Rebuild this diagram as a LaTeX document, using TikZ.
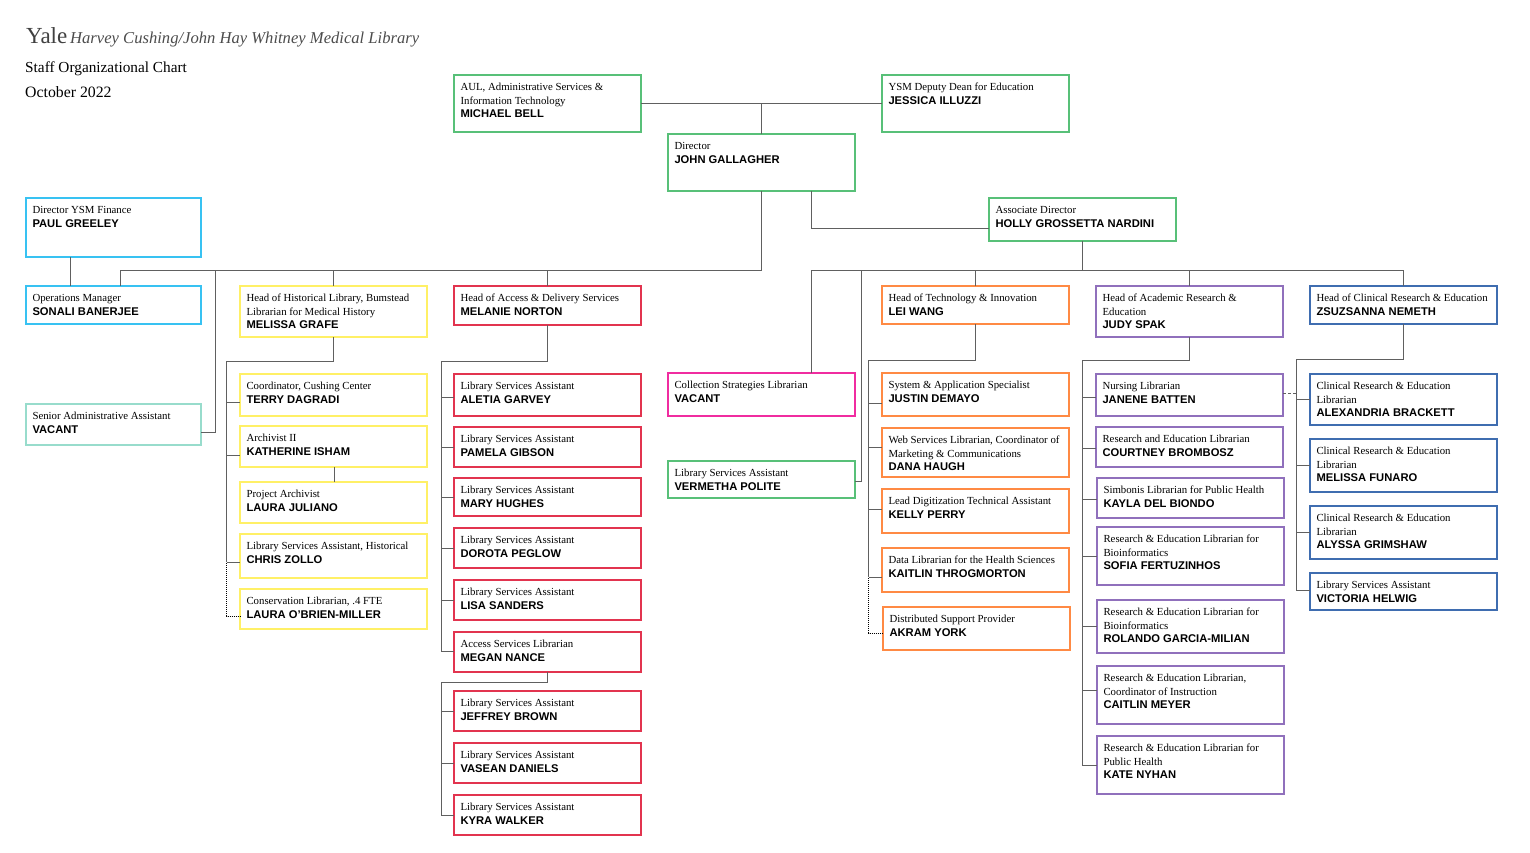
\documentclass[tikz,border=0pt]{standalone}
\usepackage{fontspec}
\setmainfont{Liberation Serif}
\setsansfont{Liberation Sans}
\definecolor{ygreen}{HTML}{58C078}
\definecolor{ycyan}{HTML}{38C2F2}
\definecolor{yteal}{HTML}{98DCCC}
\definecolor{yyellow}{HTML}{FFF066}
\definecolor{yred}{HTML}{E2344F}
\definecolor{ypink}{HTML}{F02CA0}
\definecolor{yorange}{HTML}{FF8A44}
\definecolor{ypurple}{HTML}{9070BC}
\definecolor{yblue}{HTML}{3F6DB0}
\definecolor{ylink}{HTML}{606060}
\tikzset{
	staffbox/.style={draw=#1, line width=1.1pt, anchor=north west, inner xsep=6.5pt, inner ysep=0pt, outer sep=0pt, font=\fontsize{10.8}{13.8}\selectfont},
	link/.style={draw=ylink, line width=0.9pt},
	dotlink/.style={draw=black, line width=1pt, densely dotted},
	headline/.style={anchor=base west, inner sep=0pt}
}
% id, colour, left, top, height, role, name
\newcommand{\staff}[8][187]{\node[staffbox=#3] (#2) at (#4,#5) {\parbox[t][#6pt][t]{\dimexpr#1pt-13pt\relax}{\raggedright\rule{0pt}{15.3pt}#7\\{\sffamily\bfseries\fontsize{11.2}{13.8}\selectfont #8}}};}
\begin{document}
\begin{tikzpicture}[x=1pt,y=-1pt]
	\useasboundingbox (0,0) rectangle (1530,852);
	% heading
	\node[headline, text=black!75, font=\fontsize{23}{25}\selectfont] (yale) at (26,43) {Yale};
	\node[headline, text=black!70, font=\fontsize{16.6}{20}\selectfont\itshape] (library) at (70,43) {Harvey Cushing/John Hay Whitney Medical Library};
	\node[headline, font=\fontsize{15.3}{18}\selectfont] (chart) at (25,72) {Staff Organizational Chart};
	\node[headline, font=\fontsize{15.8}{18}\selectfont] (date) at (25,97) {October 2022};
	% top of the chart
	\staff{aul}{ygreen}{454}{75}{57}{AUL, Administrative Services \&\\Information Technology}{MICHAEL BELL}
	\staff{dean}{ygreen}{882}{75}{57}{YSM Deputy Dean for Education}{JESSICA ILLUZZI}
	\staff{director}{ygreen}{668}{134}{57}{Director}{JOHN GALLAGHER}
	\staff{assoc}{ygreen}{989}{198}{43}{Associate Director}{HOLLY GROSSETTA NARDINI}
	\staff[175]{finance}{ycyan}{26}{198}{59}{Director YSM Finance}{PAUL GREELEY}
	\staff[175]{opsmgr}{ycyan}{26}{286}{38}{Operations Manager}{SONALI BANERJEE}
	\staff[175]{admin}{yteal}{26}{404}{41}{Senior Administrative Assistant}{VACANT}
	% historical library
	\staff{hist}{yyellow}{240}{286}{51}{Head of Historical Library, Bumstead\\Librarian for Medical History}{MELISSA GRAFE}
	\staff{terry}{yyellow}{240}{374}{42}{Coordinator, Cushing Center}{TERRY DAGRADI}
	\staff{katherine}{yyellow}{240}{426}{41}{Archivist II}{KATHERINE ISHAM}
	\staff{juliano}{yyellow}{240}{482}{41}{Project Archivist}{LAURA JULIANO}
	\staff{chris}{yyellow}{240}{534}{44}{Library Services Assistant, Historical}{CHRIS ZOLLO}
	\staff{obrien}{yyellow}{240}{589}{40}{Conservation Librarian, .4 FTE}{LAURA O'BRIEN-MILLER}
	% access and delivery
	\staff{access}{yred}{454}{286}{39}{Head of Access \& Delivery Services}{MELANIE NORTON}
	\staff{aletia}{yred}{454}{374}{42}{Library Services Assistant}{ALETIA GARVEY}
	\staff{pamela}{yred}{454}{427}{40}{Library Services Assistant}{PAMELA GIBSON}
	\staff{mary}{yred}{454}{478}{38}{Library Services Assistant}{MARY HUGHES}
	\staff{dorota}{yred}{454}{528}{40}{Library Services Assistant}{DOROTA PEGLOW}
	\staff{lisa}{yred}{454}{580}{40}{Library Services Assistant}{LISA SANDERS}
	\staff{megan}{yred}{454}{632}{40}{Access Services Librarian}{MEGAN NANCE}
	\staff{jeffrey}{yred}{454}{691}{40}{Library Services Assistant}{JEFFREY BROWN}
	\staff{vasean}{yred}{454}{743}{40}{Library Services Assistant}{VASEAN DANIELS}
	\staff{kyra}{yred}{454}{795}{40}{Library Services Assistant}{KYRA WALKER}
	% middle column
	\staff{collection}{ypink}{668}{373}{43}{Collection Strategies Librarian}{VACANT}
	\staff{vermetha}{ygreen}{668}{461}{37}{Library Services Assistant}{VERMETHA POLITE}
	% technology
	\staff{lei}{yorange}{882}{286}{38}{Head of Technology \& Innovation}{LEI WANG}
	\staff{justin}{yorange}{882}{373}{43}{System \& Application Specialist}{JUSTIN DEMAYO}
	\staff{dana}{yorange}{882}{428}{49}{Web Services Librarian, Coordinator of\\Marketing \& Communications}{DANA HAUGH}
	\staff{kelly}{yorange}{882}{489}{44}{Lead Digitization Technical Assistant}{KELLY PERRY}
	\staff{kaitlin}{yorange}{882}{548}{44}{Data Librarian for the Health Sciences}{KAITLIN THROGMORTON}
	\staff{akram}{yorange}{883}{607}{43}{Distributed Support Provider}{AKRAM YORK}
	% academic research
	\staff{judy}{ypurple}{1096}{286}{51}{Head of Academic Research \&\\Education}{JUDY SPAK}
	\staff{janene}{ypurple}{1096}{374}{42}{Nursing Librarian}{JANENE BATTEN}
	\staff{courtney}{ypurple}{1096}{427}{40}{Research and Education Librarian}{COURTNEY BROMBOSZ}
	\staff{kayla}{ypurple}{1097}{478}{40}{Simbonis Librarian for Public Health}{KAYLA DEL BIONDO}
	\staff{sofia}{ypurple}{1097}{527}{58}{Research \& Education Librarian for\\Bioinformatics}{SOFIA FERTUZINHOS}
	\staff{rolando}{ypurple}{1097}{600}{53}{Research \& Education Librarian for\\Bioinformatics}{ROLANDO GARCIA-MILIAN}
	\staff{caitlin}{ypurple}{1097}{666}{58}{Research \& Education Librarian,\\Coordinator of Instruction}{CAITLIN MEYER}
	\staff{kate}{ypurple}{1097}{736}{58}{Research \& Education Librarian for\\Public Health}{KATE NYHAN}
	% clinical research
	\staff{zsuzsanna}{yblue}{1310}{286}{38}{Head of Clinical Research \& Education}{ZSUZSANNA NEMETH}
	\staff{alexandria}{yblue}{1310}{374}{51}{Clinical Research \& Education\\Librarian}{ALEXANDRIA BRACKETT}
	\staff{funaro}{yblue}{1310}{439}{53}{Clinical Research \& Education\\Librarian}{MELISSA FUNARO}
	\staff{alyssa}{yblue}{1310}{506}{53}{Clinical Research \& Education\\Librarian}{ALYSSA GRIMSHAW}
	\staff{victoria}{yblue}{1310}{573}{37}{Library Services Assistant}{VICTORIA HELWIG}
	% elbows of the trunks
	\coordinate (leftbus) at (120,270);
	\coordinate (rightbus) at (811,270);
	\coordinate (histtrunk) at (226.5,361);
	\coordinate (accesstrunk) at (441,361);
	\coordinate (megantrunk) at (441,682);
	\coordinate (leitrunk) at (868.5,360);
	\coordinate (judytrunk) at (1082,360);
	\coordinate (zsutrunk) at (1296,359);
	% top links
	\draw[link] (aul.east) -- (dean.west);
	\draw[link] (director.north |- aul.east) -- (director.north);
	\draw[link] (director.south -| 811,0) |- (assoc.west |- 0,228);
	\draw[link] (finance.south -| 70,0) -- (opsmgr.north -| 70,0);
	% left bus
	\draw[link] (director.south) |- (leftbus) -- (opsmgr.north -| leftbus);
	\draw[link] (215,270) |- (admin.east |- 0,432);
	\draw[link] (hist.north |- leftbus) -- (hist.north);
	\draw[link] (access.north |- leftbus) -- (access.north);
	% right bus
	\draw[link] (assoc.south) -- (assoc.south |- rightbus);
	\draw[link] (collection.north -| rightbus) |- (zsuzsanna.north |- rightbus) -- (zsuzsanna.north);
	\draw[link] (861,270) |- (vermetha.east |- 0,481);
	\draw[link] (lei.north |- rightbus) -- (lei.north);
	\draw[link] (judy.north |- rightbus) -- (judy.north);
	% trunks
	\draw[link] (hist.south) |- (histtrunk) -- (histtrunk |- 0,562);
	\foreach \who/\yy in {terry/402,katherine/455,chris/562}
		\draw[link] (histtrunk |- 0,\yy) -- (\who.west |- 0,\yy);
	\draw[link] (katherine.south -| 334,0) -- (juliano.north -| 334,0);
	\draw[dotlink] (histtrunk |- 0,563) |- (obrien.west |- 0,616);
	\draw[link] (access.south) |- (accesstrunk) -- (accesstrunk |- 0,651);
	\foreach \who/\yy in {aletia/397,pamela/447,mary/497,dorota/548,lisa/600,megan/651}
		\draw[link] (accesstrunk |- 0,\yy) -- (\who.west |- 0,\yy);
	\draw[link] (megan.south) |- (megantrunk) -- (megantrunk |- 0,815);
	\foreach \who/\yy in {jeffrey/711,vasean/763,kyra/815}
		\draw[link] (megantrunk |- 0,\yy) -- (\who.west |- 0,\yy);
	\draw[link] (lei.south) |- (leitrunk) -- (leitrunk |- 0,577);
	\foreach \who/\yy in {justin/403,dana/447,kelly/509,kaitlin/577}
		\draw[link] (leitrunk |- 0,\yy) -- (\who.west |- 0,\yy);
	\draw[dotlink] (leitrunk |- 0,578) |- (akram.west |- 0,633);
	\draw[link] (judy.south) |- (judytrunk) -- (judytrunk |- 0,765);
	\foreach \who/\yy in {janene/397,courtney/448,kayla/499,sofia/556,rolando/626,caitlin/690,kate/765}
		\draw[link] (judytrunk |- 0,\yy) -- (\who.west |- 0,\yy);
	\draw[link] (zsuzsanna.south) |- (zsutrunk) -- (zsutrunk |- 0,590);
	\foreach \who/\yy in {alexandria/399,funaro/465,alyssa/532,victoria/590}
		\draw[link] (zsutrunk |- 0,\yy) -- (\who.west |- 0,\yy);
	\draw[link, line width=0.6pt, densely dashed] (janene.east |- 0,393) -- (zsutrunk |- 0,393);
\end{tikzpicture}
\end{document}
